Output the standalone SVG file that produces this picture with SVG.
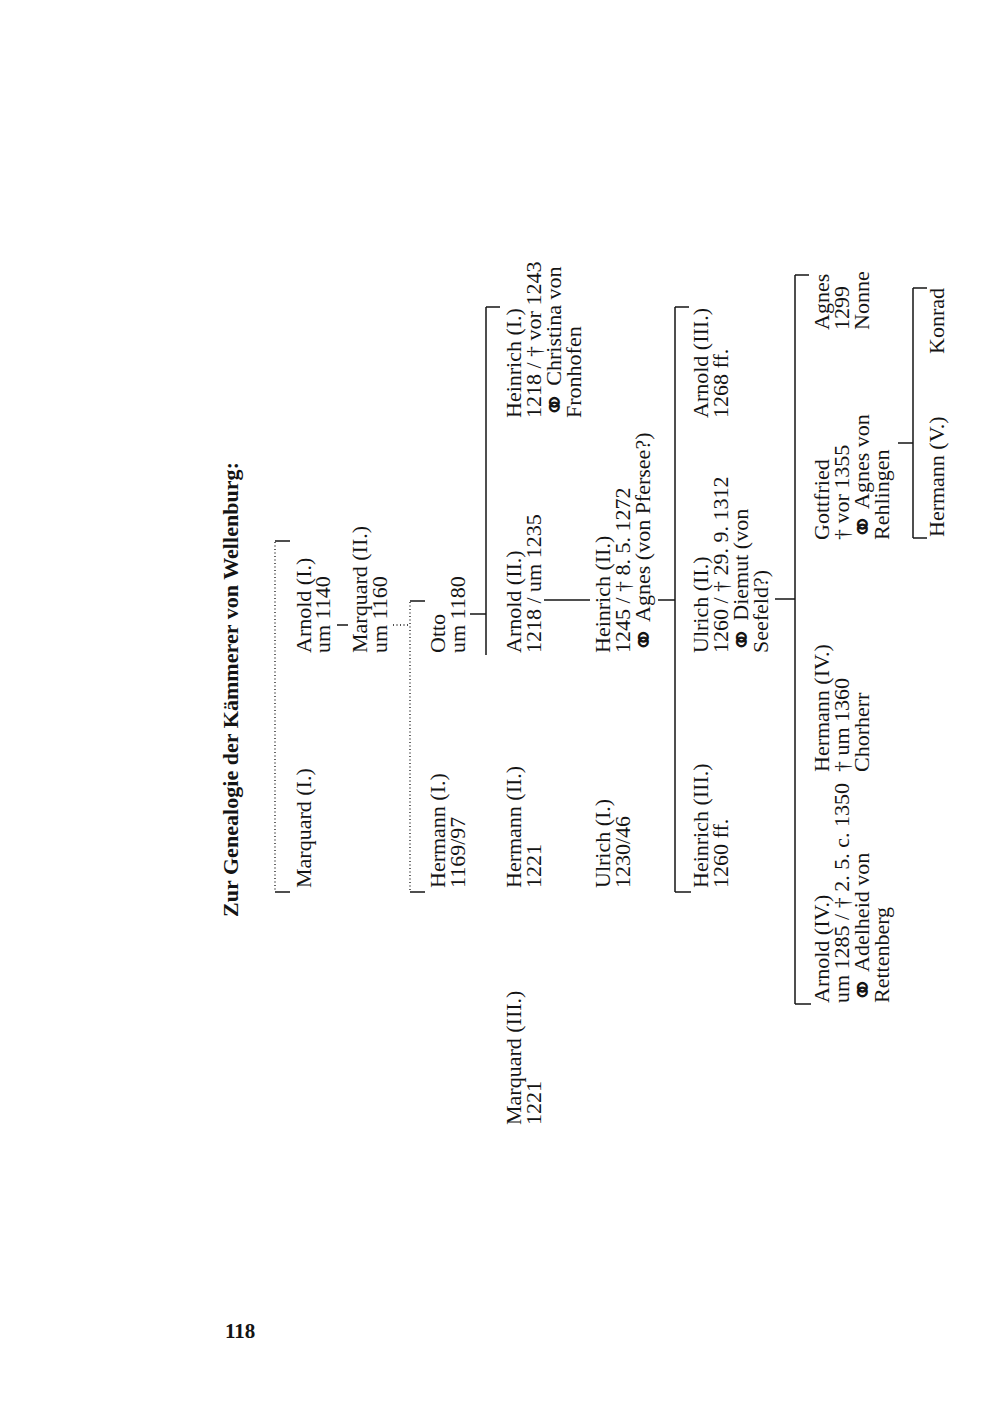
<svg xmlns="http://www.w3.org/2000/svg" width="1000" height="1426" viewBox="0 0 1000 1426">
<style>
  .t { font-family: "Liberation Serif", "DejaVu Serif", "DejaVu Sans", serif; font-size: 22px; fill: #141414; }
  .m { font-family: "DejaVu Sans", "Noto Sans", sans-serif; font-size: 32px; }
  .title { font-family: "Liberation Serif", "DejaVu Serif", serif; font-size: 22px; font-weight: bold; fill: #141414; }
  .pg { font-family: "Liberation Serif", serif; font-size: 21px; font-weight: bold; fill: #141414; }
  .ln { stroke: #141414; stroke-width: 1.5; fill: none; }
  .dot { stroke: #141414; stroke-width: 1.3; fill: none; stroke-dasharray: 1 2.5; }
</style>
<rect width="1000" height="1426" fill="#ffffff"/>

<g id="title" transform="translate(238,917) rotate(-90)">
  <text class="title" x="0" y="0" textLength="455" lengthAdjust="spacing">Zur Genealogie der Kämmerer von Wellenburg:</text>
</g>

<g id="connectors">
  <line class="dot" x1="275" y1="542" x2="275" y2="891"/>
  <line class="ln" x1="275" y1="541" x2="290" y2="541"/>
  <line class="ln" x1="275" y1="892" x2="290" y2="892"/>
  <line class="ln" x1="337" y1="625" x2="348" y2="625"/>
  <line class="dot" x1="393" y1="625" x2="410" y2="625"/>
  <line class="dot" x1="410" y1="602" x2="410" y2="891"/>
  <line class="ln" x1="410" y1="601" x2="425" y2="601"/>
  <line class="ln" x1="410" y1="892" x2="425" y2="892"/>
  <line class="ln" x1="470" y1="614" x2="486" y2="614"/>
  <line class="ln" x1="486" y1="307" x2="486" y2="655"/>
  <line class="ln" x1="486" y1="307" x2="500" y2="307"/>
  <line class="ln" x1="544" y1="600" x2="590" y2="600"/>
  <line class="ln" x1="658" y1="600" x2="675" y2="600"/>
  <line class="ln" x1="675" y1="307" x2="675" y2="892"/>
  <line class="ln" x1="675" y1="307" x2="689" y2="307"/>
  <line class="ln" x1="675" y1="892" x2="691" y2="892"/>
  <line class="ln" x1="775" y1="599" x2="795" y2="599"/>
  <line class="ln" x1="795" y1="275" x2="795" y2="1004"/>
  <line class="ln" x1="795" y1="275" x2="809" y2="275"/>
  <line class="ln" x1="795" y1="1004" x2="811" y2="1004"/>
  <line class="ln" x1="898" y1="443" x2="913" y2="443"/>
  <line class="ln" x1="913" y1="288" x2="913" y2="538"/>
  <line class="ln" x1="913" y1="288" x2="927" y2="288"/>
  <line class="ln" x1="913" y1="538" x2="927" y2="538"/>
</g>

<g id="marquard1" transform="translate(311,888) rotate(-90)">
  <text class="t" x="0" y="0">Marquard (I.)</text>
</g>
<g id="arnold1" transform="translate(311,653) rotate(-90)">
  <text class="t" x="0" y="0">Arnold (I.)</text>
  <text class="t" x="0" y="19">um 1140</text>
</g>
<g id="marquard2" transform="translate(367,653) rotate(-90)">
  <text class="t" x="0" y="0">Marquard (II.)</text>
  <text class="t" x="0" y="20">um 1160</text>
</g>
<g id="hermann1" transform="translate(445,888) rotate(-90)">
  <text class="t" x="0" y="0">Hermann (I.)</text>
  <text class="t" x="0" y="20">1169/97</text>
</g>
<g id="otto" transform="translate(445,653) rotate(-90)">
  <text class="t" x="0" y="0">Otto</text>
  <text class="t" x="0" y="20">um 1180</text>
</g>
<g id="hermann2" transform="translate(521,888) rotate(-90)">
  <text class="t" x="0" y="0">Hermann (II.)</text>
  <text class="t" x="0" y="20">1221</text>
</g>
<g id="arnold2" transform="translate(521,653) rotate(-90)">
  <text class="t" x="0" y="0">Arnold (II.)</text>
  <text class="t" x="0" y="20">1218 / um 1235</text>
</g>
<g id="heinrich1" transform="translate(521,418) rotate(-90)">
  <text class="t" x="0" y="0">Heinrich (I.)</text>
  <text class="t" x="0" y="20">1218 / † vor 1243</text>
  <text class="t" x="0" y="40"><tspan class="m" dy="5">⚭</tspan><tspan dy="-5"> Christina von</tspan></text>
  <text class="t" x="0" y="60">Fronhofen</text>
</g>
<g id="marquard3" transform="translate(521,1125) rotate(-90)">
  <text class="t" x="0" y="0">Marquard (III.)</text>
  <text class="t" x="0" y="20">1221</text>
</g>
<g id="ulrich1" transform="translate(610,888) rotate(-90)">
  <text class="t" x="0" y="0">Ulrich (I.)</text>
  <text class="t" x="0" y="20">1230/46</text>
</g>
<g id="heinrich2" transform="translate(610,653) rotate(-90)">
  <text class="t" x="0" y="0">Heinrich (II.)</text>
  <text class="t" x="0" y="20">1245 / † 8. 5. 1272</text>
  <text class="t" x="0" y="40"><tspan class="m" dy="5">⚭</tspan><tspan dy="-5"> Agnes (von Pfersee?)</tspan></text>
</g>
<g id="heinrich3" transform="translate(708,888) rotate(-90)">
  <text class="t" x="0" y="0">Heinrich (III.)</text>
  <text class="t" x="0" y="20">1260 ff.</text>
</g>
<g id="ulrich2" transform="translate(708,653) rotate(-90)">
  <text class="t" x="0" y="0">Ulrich (II.)</text>
  <text class="t" x="0" y="20">1260 / † 29. 9. 1312</text>
  <text class="t" x="0" y="40"><tspan class="m" dy="5">⚭</tspan><tspan dy="-5"> Diemut (von</tspan></text>
  <text class="t" x="0" y="60">Seefeld?)</text>
</g>
<g id="arnold3" transform="translate(708,418) rotate(-90)">
  <text class="t" x="0" y="0">Arnold (III.)</text>
  <text class="t" x="0" y="20">1268 ff.</text>
</g>
<g id="arnold4" transform="translate(829,1003) rotate(-90)">
  <text class="t" x="0" y="0">Arnold (IV.)</text>
  <text class="t" x="0" y="20">um 1285 / † 2. 5. c. 1350</text>
  <text class="t" x="0" y="40"><tspan class="m" dy="5">⚭</tspan><tspan dy="-5"> Adelheid von</tspan></text>
  <text class="t" x="0" y="60">Rettenberg</text>
</g>
<g id="hermann4" transform="translate(829,772) rotate(-90)">
  <text class="t" x="0" y="0">Hermann (IV.)</text>
  <text class="t" x="0" y="20">† um 1360</text>
  <text class="t" x="0" y="40">Chorherr</text>
</g>
<g id="gottfried" transform="translate(829,540) rotate(-90)">
  <text class="t" x="0" y="0">Gottfried</text>
  <text class="t" x="0" y="20">† vor 1355</text>
  <text class="t" x="0" y="40"><tspan class="m" dy="5">⚭</tspan><tspan dy="-5"> Agnes von</tspan></text>
  <text class="t" x="0" y="60">Rehlingen</text>
</g>
<g id="agnes" transform="translate(829,330) rotate(-90)">
  <text class="t" x="0" y="0">Agnes</text>
  <text class="t" x="0" y="20">1299</text>
  <text class="t" x="0" y="40">Nonne</text>
</g>
<g id="hermann5" transform="translate(944,537) rotate(-90)">
  <text class="t" x="0" y="0">Hermann (V.)</text>
</g>
<g id="konrad" transform="translate(944,354) rotate(-90)">
  <text class="t" x="0" y="0">Konrad</text>
</g>

<g id="pagenum">
  <text class="pg" x="225" y="1338">118</text>
</g>
</svg>
